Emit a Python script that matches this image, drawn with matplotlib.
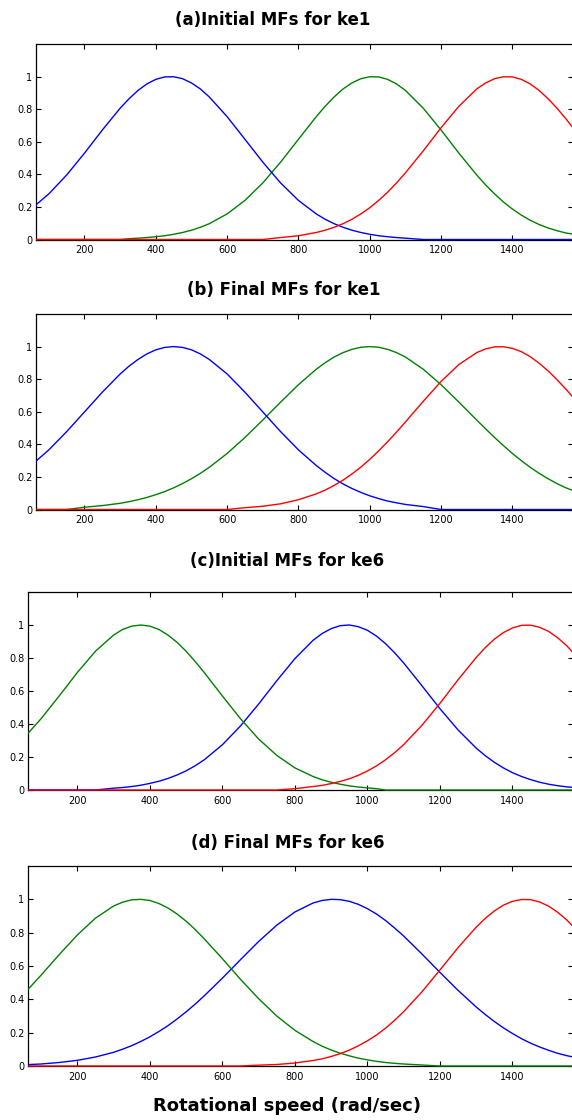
import matplotlib
matplotlib.use('Agg')
import matplotlib.pyplot as plt
from matplotlib.transforms import Bbox, TransformedBbox

# ---------------- data ----------------
X = [50, 100, 150, 200, 250, 300, 325, 350, 375, 400, 425, 450, 475, 500, 525, 550,
     600, 650, 700, 750, 800, 850, 875, 900, 925, 950, 975, 1000, 1025, 1050, 1075, 1100,
     1150, 1200, 1250, 1300, 1325, 1350, 1375, 1400, 1425, 1450, 1475, 1500, 1525, 1550, 1600]

a_blue = [0.187, 0.280, 0.396, 0.530, 0.672, 0.806, 0.864, 0.915, 0.955, 0.983, 0.998, 0.999,
          0.987, 0.961, 0.924, 0.875, 0.754, 0.615, 0.475, 0.347, 0.240, 0.157, 0.124, 0.097,
          0.075, 0.057, 0.043, 0.032, 0.023, 0.017, 0.012, 0.008] + [0] * 15
a_green = [0] * 6 + [0.005, 0.008, 0.012, 0.017, 0.023, 0.032, 0.043, 0.057, 0.075,
           0.097, 0.157, 0.240, 0.347, 0.475, 0.615, 0.754, 0.818, 0.875, 0.924, 0.961, 0.987,
           0.999, 0.998, 0.983, 0.955, 0.915, 0.806, 0.672, 0.530, 0.396, 0.335, 0.280, 0.230,
           0.187, 0.150, 0.118, 0.092, 0.071, 0.054, 0.040, 0.022]
a_red = [0] * 19 + [0.012, 0.023, 0.043, 0.057, 0.075, 0.097, 0.124, 0.157, 0.195, 0.240,
         0.290, 0.347, 0.409, 0.544, 0.686, 0.818, 0.924, 0.961, 0.987, 0.999, 0.998, 0.983,
         0.955, 0.915, 0.864, 0.806, 0.741, 0.601]

b_blue = [0.270, 0.366, 0.478, 0.599, 0.720, 0.832, 0.880, 0.921, 0.955, 0.980, 0.995, 1.0,
          0.995, 0.980, 0.955, 0.921, 0.832, 0.720, 0.599, 0.478, 0.366, 0.270, 0.228, 0.190,
          0.157, 0.129, 0.105, 0.084, 0.067, 0.052, 0.041, 0.031, 0.018] + [0] * 14
b_green = [0] * 3 + [0.014, 0.024, 0.038, 0.048, 0.060, 0.074, 0.091, 0.110, 0.133, 0.159,
           0.189, 0.222, 0.259, 0.344, 0.442, 0.549, 0.659, 0.766, 0.861, 0.901, 0.936, 0.963,
           0.983, 0.996, 1.0, 0.996, 0.983, 0.963, 0.936, 0.861, 0.766, 0.659, 0.549, 0.495,
           0.442, 0.392, 0.344, 0.300, 0.259, 0.222, 0.189, 0.159, 0.133, 0.091]
b_red = [0] * 17 + [0.011, 0.020, 0.035, 0.060, 0.096, 0.119, 0.148, 0.180, 0.218, 0.260,
         0.308, 0.360, 0.416, 0.475, 0.537, 0.664, 0.786, 0.890, 0.963, 0.986, 0.998, 0.999,
         0.989, 0.969, 0.938, 0.898, 0.851, 0.797, 0.739, 0.613]

c_green = [0.309, 0.432, 0.570, 0.712, 0.841, 0.939, 0.973, 0.993, 1.0, 0.993, 0.973, 0.939,
           0.895, 0.841, 0.779, 0.712, 0.570, 0.432, 0.309, 0.210, 0.134, 0.082, 0.062, 0.047,
           0.035, 0.025, 0.018, 0.013, 0.008] + [0] * 18
c_blue = [0] * 5 + [0.011, 0.015, 0.021, 0.029, 0.040, 0.053, 0.070, 0.091, 0.116, 0.147,
          0.183, 0.274, 0.388, 0.521, 0.662, 0.796, 0.907, 0.948, 0.978, 0.996, 1.0, 0.990,
          0.968, 0.933, 0.887, 0.832, 0.770, 0.633, 0.493, 0.364, 0.254, 0.208, 0.168, 0.134,
          0.105, 0.082, 0.063, 0.047, 0.035, 0.026, 0.019, 0.009]
c_red = [0] * 20 + [0.008, 0.021, 0.028, 0.039, 0.052, 0.068, 0.089, 0.115, 0.146, 0.183,
         0.226, 0.275, 0.391, 0.525, 0.668, 0.803, 0.863, 0.914, 0.954, 0.982, 0.998, 0.999,
         0.986, 0.961, 0.922, 0.874, 0.751]

d_green = [0.426, 0.545, 0.668, 0.786, 0.887, 0.960, 0.983, 0.997, 1.0, 0.993, 0.975, 0.948,
           0.912, 0.869, 0.819, 0.763, 0.644, 0.520, 0.404, 0.300, 0.214, 0.147, 0.119, 0.096,
           0.077, 0.061, 0.047, 0.037, 0.028, 0.021, 0.016, 0.012, 0.006] + [0] * 14
d_blue = [0.007, 0.012, 0.021, 0.034, 0.054, 0.082, 0.101, 0.122, 0.147, 0.175, 0.207, 0.242,
          0.282, 0.325, 0.371, 0.421, 0.527, 0.638, 0.747, 0.845, 0.924, 0.978, 0.993, 1.0,
          0.998, 0.988, 0.970, 0.944, 0.912, 0.873, 0.828, 0.780, 0.673, 0.562, 0.454, 0.354,
          0.309, 0.267, 0.229, 0.195, 0.164, 0.137, 0.114, 0.094, 0.076, 0.062, 0.039]
d_red = [0] * 18 + [0.005, 0.009, 0.018, 0.033, 0.043, 0.057, 0.074, 0.095, 0.121, 0.151,
         0.186, 0.227, 0.274, 0.326, 0.444, 0.576, 0.710, 0.833, 0.886, 0.930, 0.965, 0.988,
         0.999, 0.998, 0.984, 0.959, 0.922, 0.876, 0.762]

titles = ["(a)Initial MFs for ke1", "(b) Final MFs for ke1",
          "(c)Initial MFs for ke6", "(d) Final MFs for ke6"]
x_label = "Rotational speed (rad/sec)"
x_ticks = [200, 400, 600, 800, 1000, 1200, 1400]
y_ticks = [0, 0.2, 0.4, 0.6, 0.8, 1]
y_ticklabels = ["0", "0.2", "0.4", "0.6", "0.8", "1"]

BLUE, GREEN, RED = "#0000ff", "#008000", "#ff0000"
panels = [
    [(a_green, GREEN), (a_blue, BLUE), (a_red, RED)],
    [(b_green, GREEN), (b_blue, BLUE), (b_red, RED)],
    [(c_blue, BLUE), (c_green, GREEN), (c_red, RED)],
    [(d_blue, BLUE), (d_green, GREEN), (d_red, RED)],
]

# ---------------- layout ----------------
W, H = 572, 1120
fig = plt.figure(figsize=(W / 100, H / 100), dpi=100)
fig.patch.set_facecolor("white")

# left px, top px, bottom px, x max
boxes = [(36, 44, 239.5, 1570), (36, 314, 509.5, 1570),
         (28, 592, 790, 1567), (28, 866, 1066, 1567)]
RIGHT = 573
title_pos = [(273, 20), (284, 290), (287, 561), (288, 843)]

for i, ((l, t, b, xmax), series) in enumerate(zip(boxes, panels)):
    ax = fig.add_axes([l / W, 1 - b / H, (RIGHT - l) / W, (b - t) / H])
    ax.set_xlim(64, xmax)
    ax.set_ylim(0, 1.2)
    clip = TransformedBbox(Bbox([[64, -0.05], [xmax, 1.2]]), ax.transData)
    for vals, col in series:
        ln, = ax.plot(X, vals, color=col, lw=1.0, zorder=3, solid_joinstyle="round")
        ln.set_clip_box(clip)
    ax.set_xticks(x_ticks)
    ax.set_xticklabels([str(v) for v in x_ticks])
    ax.set_yticks(y_ticks)
    ax.set_yticklabels(y_ticklabels)
    ax.tick_params(direction="in", top=True, right=True, length=3.6, width=0.8,
                   labelsize=7, colors="black")
    ax.tick_params(axis="x", pad=4)
    ax.tick_params(axis="y", pad=2.5)
    for sp in ax.spines.values():
        sp.set_linewidth(0.9)
        sp.set_color("black")
    tx, ty = title_pos[i]
    fig.text(tx / W, 1 - ty / H, titles[i], ha="center", va="center",
             fontsize=12, fontweight="bold", family="DejaVu Sans")

fig.text(287 / W, 1 - 1106 / H, x_label, ha="center", va="center",
         fontsize=13, fontweight="bold", family="DejaVu Sans")

fig.savefig("out.png", dpi=100, facecolor="white")
